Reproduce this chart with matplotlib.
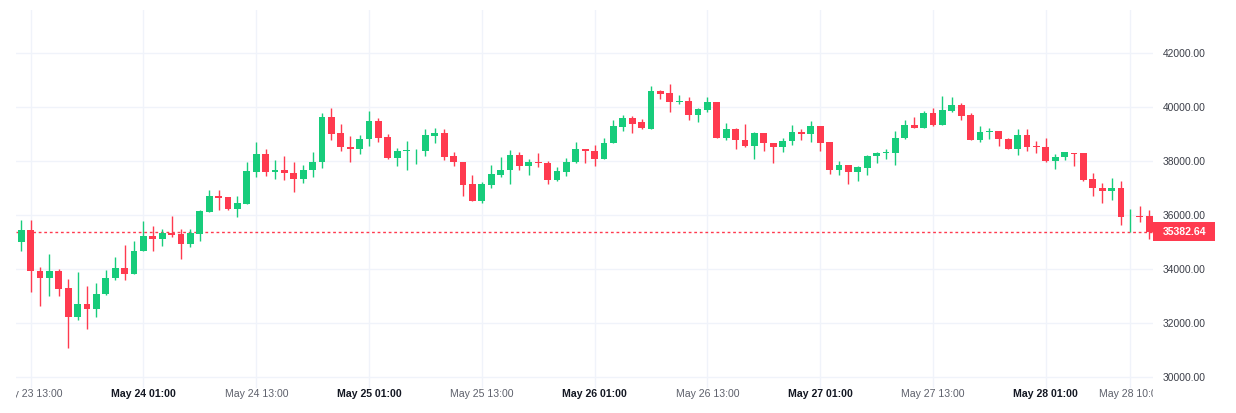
import matplotlib
matplotlib.use("Agg")
import matplotlib.pyplot as plt
import matplotlib.dates as mdates
import matplotlib.transforms as mtrans
from matplotlib.patches import Rectangle
import numpy as np
import pandas as pd

# hourly candles, May 23 12:00 -> May 28 12:00
start = "2021-05-23 12:00"
opens = [35000, 35440, 33940, 33660, 33940, 33290, 32230, 32700, 32530, 33070,
         33660, 34040, 33840, 34670, 35250, 35110, 35340, 35290, 34930, 35300,
         36120, 36710, 36670, 36220, 36420, 37620, 38280, 37620, 37680, 37580,
         37360, 37660, 37960, 39630, 39040, 38540, 38440, 38820, 39480, 38890,
         38140, 38370, 38405, 38390, 38930, 39040, 38210, 37980, 37160, 36540,
         37130, 37510, 37660, 38240, 37840, 37980, 37930, 37310, 37620, 37960,
         38460, 38390, 38090, 38670, 39270, 39590, 39440, 39210, 40600, 40520,
         40190, 40230, 39710, 39900, 40190, 38880, 39180, 38800, 38580, 39030,
         38680, 38520, 38740, 39100, 39000, 39290, 38700, 37660, 37870, 37620,
         37770, 38180, 38300, 38290, 38850, 39330, 39230, 39790, 39340, 39850,
         40080, 39700, 38800, 39080, 39140, 38840, 38470, 38990, 38550, 38540,
         38020, 38160, 38310, 38290, 37350, 37000, 36910, 37010, 35960, 35990,
         35960]
highs = [35810, 35810, 34090, 34570, 34010, 33630, 33910, 33380, 33500, 33980,
         34470, 34910, 35030, 35780, 35590, 35510, 35960, 35480, 35510, 36190,
         36940, 36940, 36690, 36710, 37960, 38700, 38470, 38060, 38210, 37980,
         37870, 38360, 39780, 39960, 39400, 38920, 38960, 39850, 39590, 39000,
         38480, 38740, 38470, 39210, 39220, 39180, 38330, 37980, 37500, 37230,
         37870, 38160, 38430, 38360, 38080, 38320, 38010, 37780, 38130, 38700,
         38460, 38620, 38870, 39520, 39700, 39670, 39550, 40790, 40640, 40860,
         40450, 40380, 39960, 40380, 40190, 39420, 39250, 39370, 39100, 39030,
         38680, 38880, 39330, 39180, 39480, 39290, 38730, 38020, 37870, 37830,
         38240, 38360, 38470, 39140, 39520, 39630, 39880, 39960, 40410, 40380,
         40150, 39780, 39290, 39250, 39140, 38870, 39180, 39180, 38770, 38880,
         38280, 38360, 38310, 38290, 37570, 37210, 37380, 37280, 36220, 36350,
         36210]
lows = [34690, 33170, 32630, 33010, 33010, 31080, 32110, 31790, 32220, 33060,
        33610, 33610, 33840, 34660, 34690, 34850, 35190, 34400, 34820, 35040,
        36110, 36190, 36200, 35940, 36410, 37430, 37470, 37360, 37310, 36870,
        37190, 37430, 37770, 38780, 38400, 37990, 38260, 38550, 38700, 38070,
        37810, 37680, 37910, 38180, 38660, 38060, 37830, 36710, 36530, 36460,
        37000, 37410, 37160, 37680, 37510, 37800, 37160, 37280, 37460, 37950,
        37930, 37830, 38080, 38660, 39140, 39030, 39180, 39180, 40310, 39830,
        40120, 39520, 39440, 39830, 38850, 38800, 38470, 38520, 38090, 38390,
        37940, 38360, 38590, 38800, 38700, 38400, 37540, 37500, 37170, 37280,
        37510, 37920, 38090, 37880, 38840, 39230, 39220, 39300, 39330, 39840,
        39530, 38780, 38730, 38820, 38560, 38460, 38220, 38400, 38290, 37980,
        37730, 38030, 37840, 37270, 36720, 36460, 36560, 35640, 35380, 35750,
        35110]
closes = [35440, 33920, 33660, 33940, 33280, 32230, 32700, 32530, 33070, 33670,
          34040, 33840, 34690, 35250, 35110, 35340, 35260, 34930, 35340, 36150,
          36710, 36640, 36220, 36450, 37650, 38280, 37620, 37680, 37550, 37360,
          37680, 37980, 39630, 39000, 38520, 38440, 38840, 39480, 38850, 38110,
          38400, 38430, 38430, 38960, 39040, 38170, 37960, 37120, 36540, 37160,
          37530, 37680, 38240, 37840, 37980, 37920, 37310, 37650, 37980, 38460,
          38370, 38090, 38690, 39290, 39590, 39400, 39220, 40600, 40500, 40200,
          40230, 39710, 39930, 40190, 38880, 39180, 38780, 38580, 39030, 38670,
          38520, 38770, 39100, 39000, 39290, 38670, 37660, 37870, 37620, 37800,
          38210, 38320, 38320, 38880, 39330, 39230, 39790, 39340, 39890, 40080,
          39680, 38800, 39100, 39140, 38830, 38470, 38990, 38520, 38530, 38020,
          38160, 38330, 38270, 37310, 37000, 36910, 37000, 35940, 35990, 35940,
          35382.64]
last_price = 35382.64
y_ticks = [30000, 32000, 34000, 36000, 38000, 40000, 42000]

UP = "#17cc7b"
DOWN = "#ff3a4f"
GRID = "#f0f3fa"

times = pd.date_range(start, periods=len(opens), freq="h")
x = mdates.date2num(times)
o = np.array(opens, dtype=float)
c = np.array(closes, dtype=float)
colors = [UP if cc >= oo else DOWN for oo, cc in zip(o, c)]

W, H = 1236, 413
fig = plt.figure(figsize=(W / 100, H / 100), dpi=100)
fig.patch.set_facecolor("white")
L, R, T, B = 16, 1153, 10, 388
ax = fig.add_axes([L / W, (H - B) / H, (R - L) / W, (B - T) / H])

hour = 1 / 24
ax.vlines(x, lows, highs, colors=colors, lw=1.0, zorder=3)
body_h = np.maximum(np.abs(c - o), 30)
ax.bar(x, body_h, bottom=np.minimum(o, c), width=0.72 * hour,
       color=colors, linewidth=0, zorder=4)

ax.set_xlim(x[0] - 0.56 * hour, x[-1] + 0.4 * hour)
ax.set_ylim(29604, 43604)

# gridlines
tick_times = list(pd.date_range("2021-05-23 13:00", "2021-05-28 01:00", freq="12h"))
tick_times.append(pd.Timestamp("2021-05-28 10:00"))
tick_x = mdates.date2num(tick_times)
ax.set_xticks(tick_x)
ax.set_xticklabels([])
ax.set_yticks(y_ticks)
ax.set_yticklabels([f"{v:.2f}" for v in y_ticks])
ax.grid(True, color=GRID, lw=1, zorder=0)
ax.tick_params(axis="x", length=0)
ax.yaxis.tick_right()
ax.tick_params(axis="y", length=0, pad=7.2, labelsize=7.4, labelcolor="#3b3e48")
for lab in ax.get_yticklabels():
    lab.set_fontfamily("Liberation Sans")
for s in ax.spines.values():
    s.set_visible(False)

# time labels, clipped to the pane width
clip = mtrans.TransformedBbox(mtrans.Bbox([[L / W, 0], [R / W, 1]]), fig.transFigure)
xtrans = mtrans.blended_transform_factory(ax.transData, ax.transAxes)
for t, tx in zip(tick_times, tick_x):
    day_start = t.hour == 1
    txt = ax.text(tx, -0.016, t.strftime("%b %d %H:%M"), transform=xtrans,
                  ha="center", va="center", fontsize=7.6,
                  family="Liberation Sans",
                  fontweight="bold" if day_start else "normal",
                  color="#131722" if day_start else "#5d606b",
                  clip_on=True)
    txt.set_clip_box(clip)

# last price line and label
ax.axhline(last_price, color=DOWN, lw=1, linestyle=(0, (2, 2)), zorder=2)
ptrans = mtrans.blended_transform_factory(ax.transAxes, ax.transData)
box_w = 62 / (R - L)
box_h = 19 * 14000 / (B - T)
ax.add_patch(Rectangle((1.0, last_price - box_h / 2), box_w, box_h,
                       transform=ptrans, facecolor=DOWN, edgecolor="none",
                       clip_on=False, zorder=5))
ax.text(1.0 + 10 / (R - L), last_price, f"{last_price:.2f}", transform=ptrans,
        ha="left", va="center", fontsize=7.6, family="Liberation Sans",
        fontweight="bold", color="white", clip_on=False, zorder=6)

fig.savefig("out.png", dpi=100, facecolor="white")
